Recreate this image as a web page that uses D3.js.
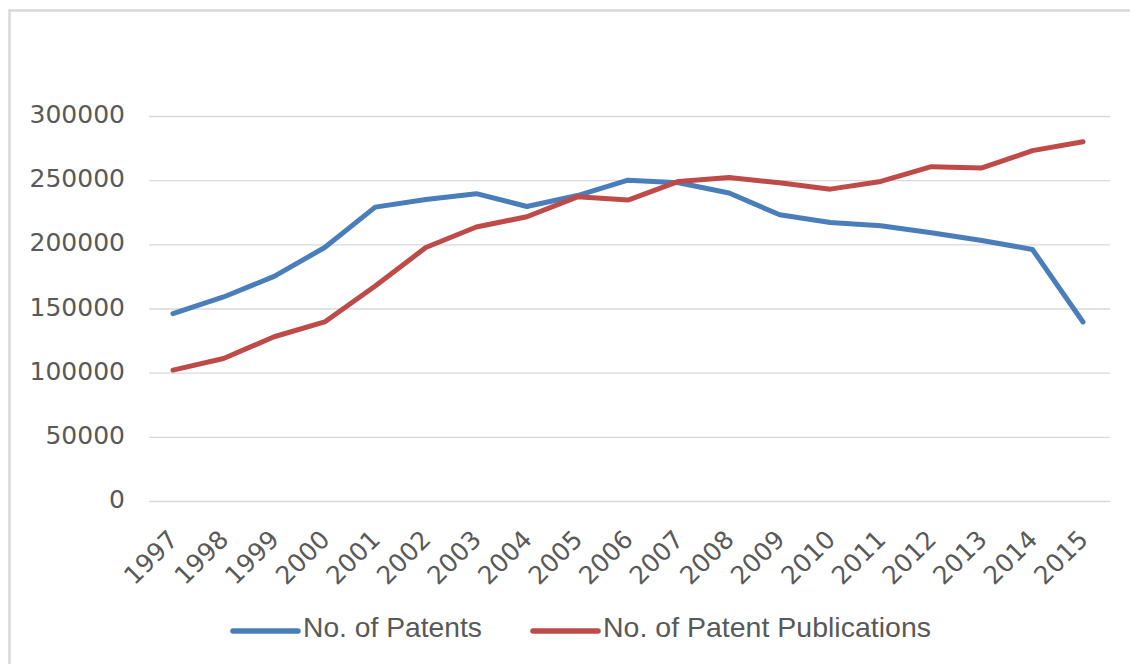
<!DOCTYPE html>
<html>
<head>
<meta charset="utf-8">
<script src="https://cdn.jsdelivr.net/npm/d3@7"></script>
<style>
  html, body { margin: 0; padding: 0; background: #fff; }
  svg { display: block; }
</style>
</head>
<body>
<svg id="chart" width="1130" height="664"></svg>
<script>
const years = ["1997","1998","1999","2000","2001","2002","2003","2004","2005","2006","2007","2008","2009","2010","2011","2012","2013","2014","2015"];
const patents = [146000,159000,175000,197500,229000,235000,239500,229500,238000,250000,248000,240000,223000,217000,214500,209000,203000,196000,139500];
const publications = [102000,111000,128000,139500,167500,197500,213500,221500,237000,234500,249000,252000,248000,243000,249000,260500,259500,273000,280000];
const yTicks = [0,50000,100000,150000,200000,250000,300000];
const seriesNames = ["No. of Patents","No. of Patent Publications"];
const seriesColors = ["#4a7ebb","#be4b48"];

const svg = d3.select("#chart");
svg.append("rect").attr("width",1130).attr("height",664).attr("fill","#fff");
// outer chart border
svg.append("rect").attr("x",9.5).attr("y",10.5).attr("width",1140).attr("height",680)
  .attr("fill","none").attr("stroke","#d9d9d9").attr("stroke-width",2.5);

const x = d3.scalePoint().domain(years).range([173,1083]);
const y = d3.scaleLinear().domain([0,300000]).range([501,116]);

// gridlines + y labels
const yAxis = d3.axisLeft(y).tickValues(yTicks).tickSize(-(1110-149)).tickPadding(24).tickFormat(d3.format("d"));
const ga = svg.append("g").attr("transform","translate(149,0)").call(yAxis);
ga.select(".domain").remove();
ga.selectAll(".tick line").attr("stroke","#d9d9d9").attr("stroke-width",1.3);
ga.selectAll(".tick text").attr("font-family","DejaVu Sans").attr("font-size",25)
  .attr("fill","#595959").attr("dy","0.3em").attr("y",-1);

// x axis labels
const xAxis = d3.axisBottom(x).tickSize(0).tickPadding(0);
const gx = svg.append("g").attr("transform","translate(0,501)").call(xAxis);
gx.select(".domain").remove();
gx.selectAll(".tick text")
  .attr("font-family","DejaVu Sans").attr("font-size",25).attr("fill","#595959")
  .attr("text-anchor","end").attr("dy",null).attr("y",null)
  .attr("transform","translate(6,40) rotate(-45)");

const line = d3.line().x((d,i)=>x(years[i])).y(d=>y(d));
[patents, publications].forEach((s,k)=>{
  svg.append("path").datum(s).attr("d",line).attr("fill","none")
    .attr("stroke",seriesColors[k]).attr("stroke-width",5)
    .attr("stroke-linejoin","round").attr("stroke-linecap","round");
});

// legend
const legendX = [233, 533];
const legendLen = [179, 328];
seriesNames.forEach((n,k)=>{
  svg.append("line").attr("x1",legendX[k]).attr("x2",legendX[k]+65).attr("y1",631).attr("y2",631)
    .attr("stroke",seriesColors[k]).attr("stroke-width",5.5).attr("stroke-linecap","round");
  svg.append("text").attr("x",legendX[k]+70).attr("y",637).text(n)
    .attr("font-family","Liberation Sans, Arial, sans-serif").attr("font-size",28)
    .attr("fill","#595959").attr("textLength",legendLen[k]).attr("lengthAdjust","spacingAndGlyphs");
});
</script>
</body>
</html>
